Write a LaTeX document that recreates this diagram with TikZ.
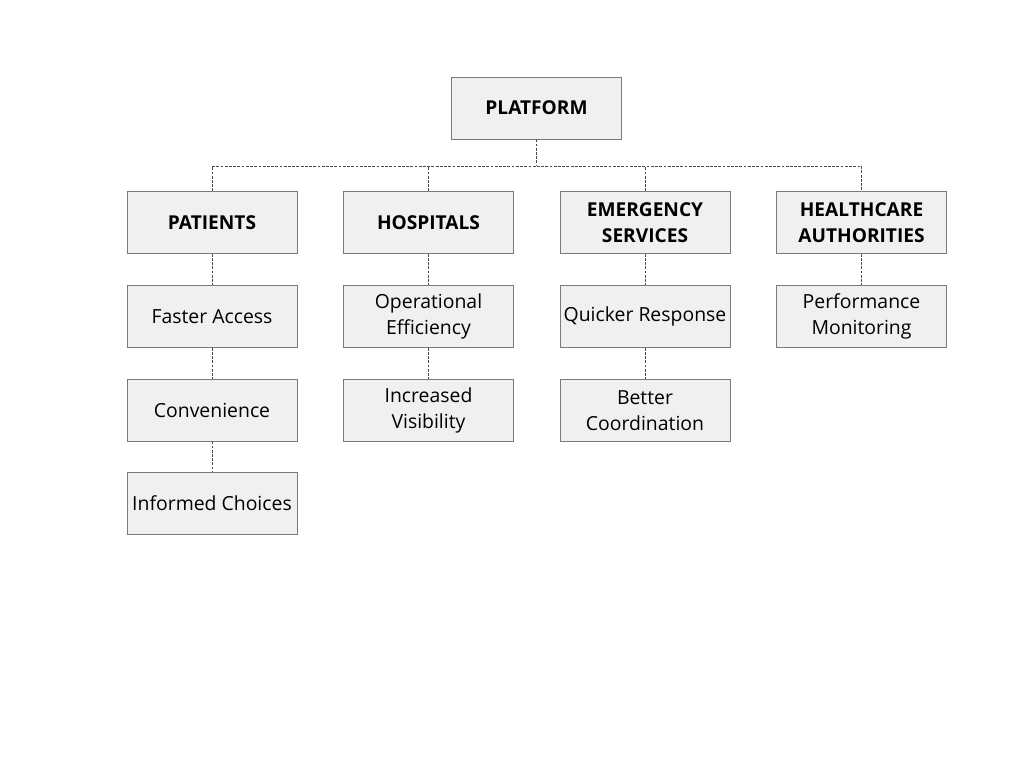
\documentclass[tikz,border=0pt]{standalone}
\usepackage{fontspec}
\setmainfont{Open Sans}
\usetikzlibrary{positioning}
\definecolor{boxfill}{HTML}{F0F0F0}
\definecolor{boxline}{HTML}{7A7A7A}
\tikzset{
  box/.style={draw=boxline, fill=boxfill, minimum width=4.25cm, minimum height=1.55cm,
    align=center, font=\fontsize{13.8}{18.4}\selectfont, inner sep=1pt},
  head/.style={box, font=\fontsize{13.6}{18.4}\selectfont\bfseries},
  link/.style={draw=black!70, dashed, dash pattern=on 2pt off 1pt, thin}
}
\begin{document}
\begin{tikzpicture}[x=0.025cm, y=-0.025cm]
            \useasboundingbox (0,0) rectangle (1024,768);
            \node[head] (platform) at (536.5,108) {PLATFORM};
            \node[head] (patients) at (212,222.5) {PATIENTS};
            \node[head] (hospitals) at (428.5,222.5) {HOSPITALS};
            \node[head] (emergency) at (645,222.5) {EMERGENCY\\SERVICES};
            \node[head] (authorities) at (861.5,222.5) {HEALTHCARE\\AUTHORITIES};
            % patients
            \node[box] (access) at (212,316.5) {Faster Access};
            \node[box] (convenience) at (212,410) {Convenience};
            \node[box] (choices) at (212,503.5) {Informed Choices};
            % hospitals
            \node[box] (efficiency) at (428.5,316.5) {Operational\\Efficiency};
            \node[box] (visibility) at (428.5,410.5) {Increased\\Visibility};
            % emergency services
            \node[box] (response) at (645,316.5) {Quicker Response};
            \node[box] (coordination) at (645,410.5) {Better\\Coordination};
            % healthcare authorities
            \node[box] (monitoring) at (861.5,316.5) {Performance\\Monitoring};
            % links
            \coordinate (bus) at (536.5,166);
            \draw[link] (platform.south) -- (bus);
            \draw[link] (patients.north) -- (patients.north |- bus) -- (authorities.north |- bus) -- (authorities.north);
            \draw[link] (hospitals.north) -- (hospitals.north |- bus);
            \draw[link] (emergency.north) -- (emergency.north |- bus);
            \draw[link] (patients) -- (access);
            \draw[link] (access) -- (convenience);
            \draw[link] (convenience) -- (choices);
            \draw[link] (hospitals) -- (efficiency);
            \draw[link] (efficiency) -- (visibility);
            \draw[link] (emergency) -- (response);
            \draw[link] (response) -- (coordination);
            \draw[link] (authorities) -- (monitoring);
        \end{tikzpicture}
\end{document}
